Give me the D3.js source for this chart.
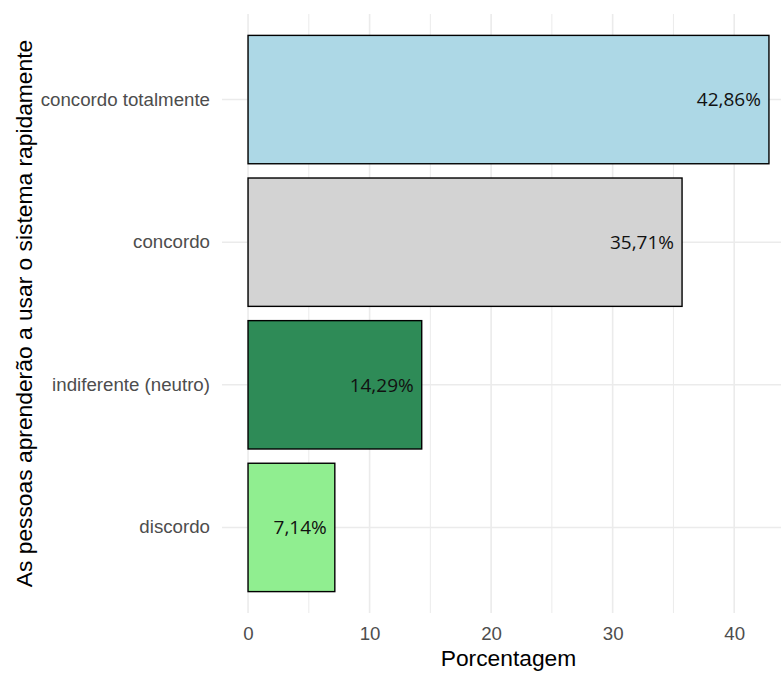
<!DOCTYPE html>
<html>
<head>
<meta charset="utf-8">
<script src="https://cdn.jsdelivr.net/npm/d3@7"></script>
<style>
  html, body { margin: 0; padding: 0; background: #ffffff; }
  svg { display: block; }
</style>
</head>
<body>
<svg id="chart" width="781" height="673"></svg>
<script>
// ---- data ----
const categories = ["concordo totalmente", "concordo", "indiferente (neutro)", "discordo"];
const percentages = [42.86, 35.71, 14.29, 7.14];
const valueLabels = ["42,86%", "35,71%", "14,29%", "7,14%"];
const barColors = ["#ADD8E6", "#D3D3D3", "#2E8B57", "#90EE90"];
const xTicks = [0, 10, 20, 30, 40];
const xMinorTicks = [5, 15, 25, 35];
const xTitle = "Porcentagem";
const yTitle = "As pessoas aprenderão a usar o sistema rapidamente";

const data = categories.map((c, i) => ({ cat: c, value: percentages[i], label: valueLabels[i], color: barColors[i] }));

const W = 781, H = 673;
const panel = { left: 222, right: 795, top: 14, bottom: 613 };

const svg = d3.select("#chart");

const maxV = d3.max(percentages);
const pad = maxV * 0.05;
const x = d3.scaleLinear().domain([-pad, maxV + pad]).range([panel.left, panel.right]);
const y = d3.scaleBand().domain(categories).range([panel.top, panel.bottom])
  .paddingInner(0.1).paddingOuter(0.15);

// gridlines
const grid = svg.append("g");
grid.selectAll("line.minor").data(xMinorTicks).enter().append("line")
  .attr("x1", d => x(d)).attr("x2", d => x(d))
  .attr("y1", panel.top).attr("y2", panel.bottom)
  .attr("stroke", "#EBEBEB").attr("stroke-width", 1);
grid.selectAll("line.major").data(xTicks).enter().append("line")
  .attr("x1", d => x(d)).attr("x2", d => x(d))
  .attr("y1", panel.top).attr("y2", panel.bottom)
  .attr("stroke", "#EBEBEB").attr("stroke-width", 1.6);
grid.selectAll("line.hmajor").data(categories).enter().append("line")
  .attr("x1", panel.left).attr("x2", panel.right)
  .attr("y1", d => y(d) + y.bandwidth() / 2).attr("y2", d => y(d) + y.bandwidth() / 2)
  .attr("stroke", "#EBEBEB").attr("stroke-width", 1.6);

// bars
svg.append("g").selectAll("rect").data(data).enter().append("rect")
  .attr("x", x(0))
  .attr("y", d => y(d.cat))
  .attr("width", d => x(d.value) - x(0))
  .attr("height", y.bandwidth())
  .attr("fill", d => d.color)
  .attr("stroke", "#000000")
  .attr("stroke-width", 1.4);

// value labels
svg.append("g").selectAll("text").data(data).enter().append("text")
  .attr("x", d => x(d.value) - 8)
  .attr("y", d => y(d.cat) + y.bandwidth() / 2)
  .attr("dy", "0.36em")
  .attr("text-anchor", "end")
  .attr("font-family", "'Open Sans', sans-serif")
  .attr("font-size", 19)
  .attr("font-weight", 500)
  .attr("fill", "#111111")
  .text(d => d.label);

// x axis
const xAxis = d3.axisBottom(x).tickValues(xTicks).tickSize(0).tickPadding(0);
const gx = svg.append("g").attr("transform", `translate(0,${panel.bottom + 14})`).call(xAxis);
gx.select(".domain").remove();
gx.selectAll("text")
  .attr("font-family", "'Liberation Sans', Arial, sans-serif")
  .attr("font-size", 18.7)
  .attr("fill", "#4D4D4D")
  .attr("dy", "0.71em");

// y axis
const yAxis = d3.axisLeft(y).tickSize(0).tickPadding(12);
const gy = svg.append("g").attr("transform", `translate(${panel.left},0)`).call(yAxis);
gy.select(".domain").remove();
gy.selectAll("text")
  .attr("font-family", "'Liberation Sans', Arial, sans-serif")
  .attr("font-size", 18.7)
  .attr("fill", "#4D4D4D");

// axis titles
svg.append("text")
  .attr("x", (panel.left + panel.right) / 2)
  .attr("y", 666)
  .attr("text-anchor", "middle")
  .attr("font-family", "'Liberation Sans', Arial, sans-serif")
  .attr("font-size", 22.8)
  .attr("fill", "#000000")
  .text(xTitle);

svg.append("text")
  .attr("transform", `translate(32,${(panel.top + panel.bottom) / 2}) rotate(-90)`)
  .attr("text-anchor", "middle")
  .attr("font-family", "'Liberation Sans', Arial, sans-serif")
  .attr("font-size", 22.8)
  .attr("fill", "#000000")
  .text(yTitle);
</script>
</body>
</html>
